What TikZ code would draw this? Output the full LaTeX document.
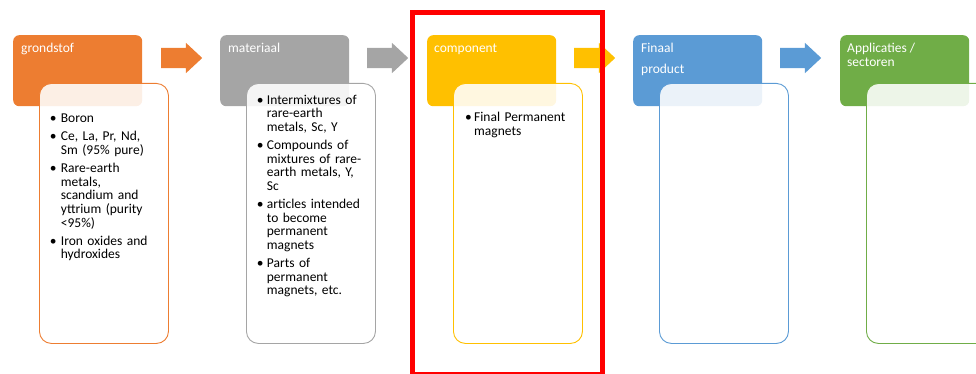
\documentclass[tikz,border=0pt]{standalone}
\usepackage{fontspec}
\setmainfont{Carlito}
\usetikzlibrary{shapes.arrows}
\definecolor{cOr}{HTML}{ED7D31}
\definecolor{cGr}{HTML}{A5A5A5}
\definecolor{cYe}{HTML}{FFC000}
\definecolor{cBl}{HTML}{5B9BD5}
\definecolor{cGn}{HTML}{70AD47}
\newlength{\bulw}
\newcommand{\bitem}[1]{\hangindent=\bulw\hangafter=1\noindent\makebox[\bulw][l]{\textbullet}#1\par}
\tikzset{
  hdr/.style={rounded corners=6pt, minimum width=129pt, minimum height=71pt, inner sep=0pt, anchor=north west, draw=none},
  tbox/.style={rounded corners=12pt, minimum width=129pt, minimum height=260pt, inner sep=0pt, anchor=north west, fill=white, fill opacity=0.88, line width=0.9pt},
  htext/.style={text=white, inner sep=0pt, anchor=base west, align=left, font=\fontsize{13.5}{14}\selectfont},
  btext/.style={text=black, inner sep=0pt, anchor=base west, text width=125pt, align=left, font=\fontsize{13.5}{13.6}\selectfont},
  blockarrow/.style={single arrow, minimum height=41pt, minimum width=30pt, single arrow head extend=5pt, single arrow tip angle=86, inner xsep=0pt, inner ysep=10pt, anchor=west, draw=none}
}
\begin{document}
\begin{tikzpicture}[x=1pt,y=-1pt]
\useasboundingbox (0,0) rectangle (976,374);
% headers
\node[hdr, fill=cOr] (h1) at (13,35) {};
\node[hdr, fill=cGr] (h2) at (220,35) {};
\node[hdr, fill=cYe] (h3) at (427,35) {};
\node[hdr, fill=cBl] (h4) at (633,35) {};
\node[hdr, fill=cGn] (h5) at (840,35) {};
% header texts
\node[htext] (t1) at (21,53) {grondstof};
\node[htext] (t2) at (228,53) {materiaal};
\node[htext] (t3) at (434,53) {component};
\node[htext, font=\fontsize{13.5}{21}\selectfont] (t4) at (641,74) {Finaal\\product};
\node[htext] (t5) at (847,67) {Applicaties /\\sectoren};
% arrows
\node[blockarrow, fill=cOr] (a1) at (161,58) {};
\node[blockarrow, fill=cGr] (a2) at (367,58) {};
\node[blockarrow, fill=cYe] (a3) at (574,58) {};
\node[blockarrow, fill=cBl] (a4) at (780,58) {};
% text boxes
\node[tbox, draw=cOr] (b1) at (39,83) {};
\node[tbox, draw=cGr] (b2) at (246,83) {};
\node[tbox, draw=cYe] (b3) at (453,83) {};
\node[tbox, draw=cBl] (b4) at (659,83) {};
\node[tbox, draw=cGn] (b5) at (866,83) {};
% bullet texts
\node[btext] (l1) at (49.7,122.7) {\setlength{\bulw}{11pt}\setlength{\parskip}{4.6pt}%
\bitem{Boron}%
\bitem{Ce, La, Pr, Nd,\newline Sm (95\% pure)}%
\bitem{Rare-earth\newline metals,\newline scandium and\newline yttrium (purity\newline <95\%)}%
\bitem{Iron oxides and\newline hydroxides}};
\node[btext] (l2) at (256.7,104.3) {\setlength{\bulw}{10pt}\setlength{\parskip}{4.6pt}%
\bitem{Intermixtures of\newline rare-earth\newline metals, Sc, Y}%
\bitem{Compounds of\newline mixtures of rare-\newline earth metals, Y,\newline Sc}%
\bitem{articles intended\newline to become\newline permanent\newline magnets}%
\bitem{Parts of\newline permanent\newline magnets, etc.}};
\node[btext] (l3) at (465,122) {\setlength{\bulw}{9pt}%
\bitem{Final Permanent\newline magnets}};
% highlight
\node[draw=red, line width=5.5pt, minimum width=190pt, minimum height=361.5pt, inner sep=0pt, anchor=north west] (sel) at (409.5,10) {};
\end{tikzpicture}
\end{document}
